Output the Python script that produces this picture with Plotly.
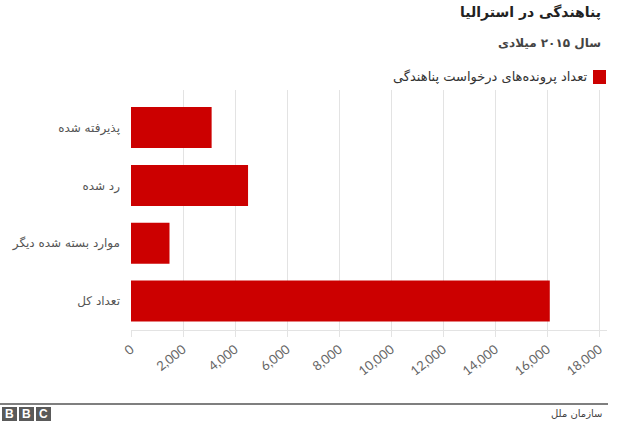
import plotly.graph_objects as go

categories = ["پذیرفته شده", "رد شده", "موارد بسته شده دیگر", "تعداد کل"]
values = [3100, 4500, 1480, 16100]
tick_vals = [0, 2000, 4000, 6000, 8000, 10000, 12000, 14000, 16000, 18000]
tick_text = ["0", "2,000", "4,000", "6,000", "8,000", "10,000", "12,000", "14,000", "16,000", "18,000"]

title = "پناهندگی در استرالیا"
subtitle = "سال ۲۰۱۵ میلادی"
legend_label = "تعداد پرونده‌های درخواست پناهندگی"
source = "سازمان ملل"

W, H = 640, 428
L, R, T, B = 131, 33, 90, 98
pw, ph = W - L - R, H - T - B

def px(x):
    return (x - L) / pw

def py(y):
    return (H - B - y) / ph

RED = "#CC0000"
FA = "DejaVu Sans"

fig = go.Figure(go.Bar(
    x=values, y=categories, orientation="h",
    marker=dict(color=RED, line=dict(width=0)),
    showlegend=False, hoverinfo="x+y",
))

fig.update_layout(
    width=W, height=H,
    margin=dict(l=L, r=R, t=T, b=B, autoexpand=False),
    paper_bgcolor="white", plot_bgcolor="white",
    bargap=0.29,
    xaxis=dict(
        range=[0, 18300], tickvals=tick_vals, ticktext=tick_text,
        tickangle=-38, showgrid=True, gridcolor="#e3e3e3", gridwidth=1,
        zeroline=False, showline=True, linecolor="#e3e3e3", linewidth=1,
        ticks="outside", ticklen=6, tickcolor="#e3e3e3",
        tickfont=dict(family="Lato", size=13, color="#666"),
    ),
    yaxis=dict(
        range=[3.5, -0.65], showgrid=False, zeroline=False,
        tickfont=dict(family=FA, size=12, color="#555"),
        ticks="", ticklabelstandoff=10,
    ),
)

ann = []
ann.append(dict(text="<b>" + title + "</b>", x=px(603), y=py(12), xref="paper", yref="paper",
                xanchor="right", yanchor="middle", showarrow=False,
                font=dict(family=FA, size=14, color="#222")))
ann.append(dict(text="<b>" + subtitle + "</b>", x=px(603), y=py(43), xref="paper", yref="paper",
                xanchor="right", yanchor="middle", showarrow=False,
                font=dict(family=FA, size=12, color="#444")))
ann.append(dict(text=legend_label, x=px(589), y=py(77), xref="paper", yref="paper",
                xanchor="right", yanchor="middle", showarrow=False,
                font=dict(family=FA, size=13, color="#333")))
ann.append(dict(text=source, x=px(604), y=py(413), xref="paper", yref="paper",
                xanchor="right", yanchor="middle", showarrow=False,
                font=dict(family=FA, size=10, color="#444")))
for i, letter in enumerate("BBC"):
    cx = 9.5 + i * 17
    ann.append(dict(text="<b>" + letter + "</b>", x=px(cx), y=py(414), xref="paper", yref="paper",
                    xanchor="center", yanchor="middle", showarrow=False,
                    font=dict(family="Liberation Sans", size=12, color="white")))

shapes = []
shapes.append(dict(type="rect", xref="paper", yref="paper",
                   x0=px(593), x1=px(606), y0=py(84), y1=py(70),
                   fillcolor=RED, line=dict(width=0)))
shapes.append(dict(type="line", xref="paper", yref="paper",
                   x0=px(0), x1=px(608), y0=py(404), y1=py(404),
                   line=dict(color="#555", width=1.5)))
for i in range(3):
    x0 = 2 + i * 17
    shapes.append(dict(type="rect", xref="paper", yref="paper",
                       x0=px(x0), x1=px(x0 + 15), y0=py(421), y1=py(407),
                       fillcolor="#5a5a5a", line=dict(width=0)))

fig.update_layout(annotations=ann, shapes=shapes)
fig.write_html("out.html", config={"displayModeBar": False},
               post_script="document.body.style.margin='0';document.body.style.overflow='hidden';")
